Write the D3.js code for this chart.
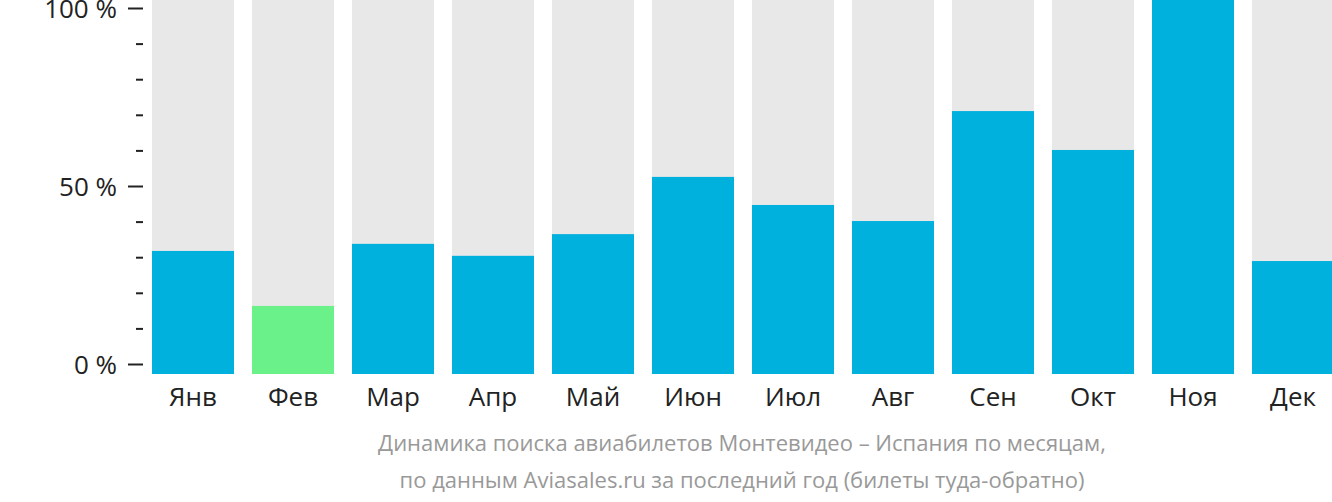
<!DOCTYPE html>
<html>
<head>
<meta charset="utf-8">
<script src="https://cdn.jsdelivr.net/npm/d3@7"></script>
<style>
  html, body { margin: 0; padding: 0; background: #fff; }
  svg { display: block; font-family: "Open Sans", sans-serif; }
</style>
</head>
<body>
<svg id="chart" width="1332" height="502"></svg>
<script>
const months = ["Янв", "Фев", "Мар", "Апр", "Май", "Июн", "Июл", "Авг", "Сен", "Окт", "Ноя", "Дек"];
const values = [32.9, 18.2, 34.8, 31.6, 37.4, 52.7, 45.2, 40.9, 70.3, 59.9, 100, 30.2];
const highlight = ["Фев"];
const majorTicks = [0, 50, 100];
const minorTicks = [10, 20, 30, 40, 60, 70, 80, 90];
const subtitle = [
  "Динамика поиска авиабилетов Монтевидео – Испания по месяцам,",
  "по данным Aviasales.ru за последний год (билеты туда-обратно)"
];

const svg = d3.select("#chart");

const x = d3.scaleBand().domain(months).range([143, 1343]).paddingInner(0.18).paddingOuter(0.09);
const yBar = d3.scaleLinear().domain([0, 100]).range([374, 0]);
const yAxis = d3.scaleLinear().domain([0, 100]).range([364, 8]);

// background columns
svg.append("g").selectAll("rect").data(months).join("rect")
  .attr("x", d => x(d)).attr("width", x.bandwidth())
  .attr("y", yBar(100)).attr("height", yBar(0) - yBar(100))
  .attr("fill", "#e8e8e8");

// value bars
svg.append("g").selectAll("rect").data(months).join("rect")
  .attr("x", d => x(d)).attr("width", x.bandwidth())
  .attr("y", (d, i) => yBar(values[i]))
  .attr("height", (d, i) => yBar(0) - yBar(values[i]))
  .attr("fill", d => highlight.includes(d) ? "#6bf189" : "#00b0dd");

// y axis major
const gMajor = svg.append("g").attr("transform", "translate(143,0)")
  .call(d3.axisLeft(yAxis).tickValues(majorTicks).tickSize(15).tickPadding(11).tickFormat(d => d + " %"));
gMajor.select(".domain").remove();
gMajor.selectAll("line").attr("stroke", "#222").attr("stroke-width", 2);
gMajor.selectAll("text").attr("fill", "#222").style("font-size", "26px").style("font-family", "Open Sans").attr("dy", "0.36em");

const gMinor = svg.append("g").attr("transform", "translate(143,0)")
  .call(d3.axisLeft(yAxis).tickValues(minorTicks).tickSize(7).tickFormat(""));
gMinor.select(".domain").remove();
gMinor.selectAll("line").attr("stroke", "#222").attr("stroke-width", 2);

// x axis labels
const gx = svg.append("g").attr("transform", "translate(0,374)")
  .call(d3.axisBottom(x).tickSize(0));
gx.select(".domain").remove();
gx.selectAll("text").attr("fill", "#222").attr("y", 32).attr("dy", 0)
  .style("font-size", "26px").style("font-family", "Open Sans");

// subtitle
svg.append("g").selectAll("text").data(subtitle).join("text")
  .attr("x", 742).attr("y", (d, i) => 451 + i * 37)
  .attr("text-anchor", "middle")
  .attr("fill", "#999")
  .style("font-size", "22px")
  .text(d => d);
</script>
</body>
</html>
